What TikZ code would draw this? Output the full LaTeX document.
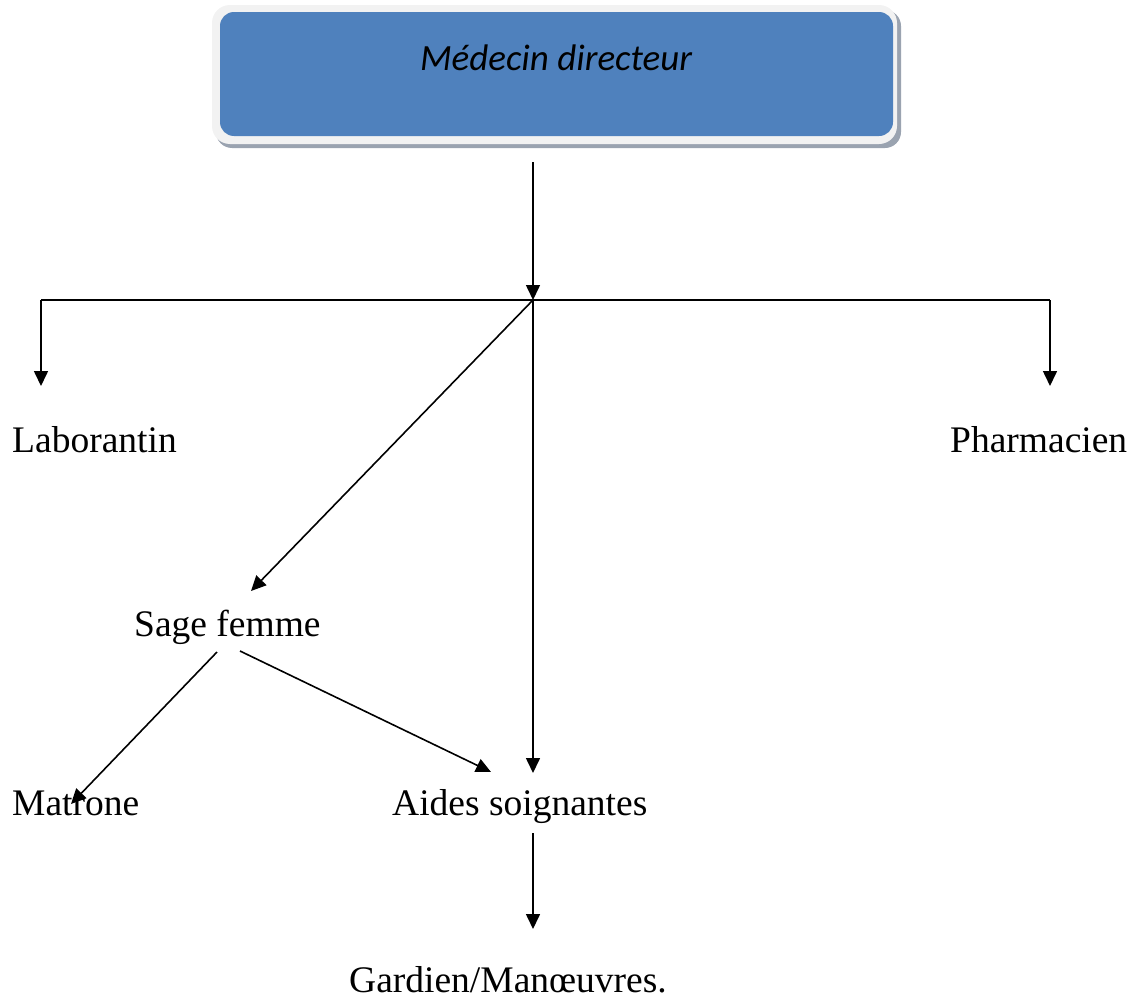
\documentclass[tikz,border=0pt]{standalone}
\usepackage{fontspec}
\setmainfont{Liberation Serif}
\newfontfamily\calib{Carlito}
\usetikzlibrary{arrows.meta}
\definecolor{boxblue}{HTML}{4F81BD}
\definecolor{framegray}{HTML}{F2F2F2}
\definecolor{shadowgray}{HTML}{9AA3B0}
\begin{document}
\begin{tikzpicture}[x=1pt,y=-1pt,
  arr/.style={line width=1.6pt,-{Triangle[length=15pt,width=14pt]}},
  ln/.style={line width=1.6pt},
  lbl/.style={inner sep=0pt,anchor=base west,font=\fontsize{37.5}{45}\selectfont}]
\useasboundingbox (0,0) rectangle (1135,1001);
% box
\fill[shadowgray,rounded corners=16pt] (216,10) rectangle (901,148);
\fill[framegray,rounded corners=18pt] (212,5) rectangle (897,144);
\node[fill=boxblue,rounded corners=14pt,minimum width=673pt,minimum height=124pt,inner sep=0pt] (md) at (556.5,74) {};
\node[inner sep=0pt,anchor=base,font=\calib\itshape\fontsize{37}{44}\selectfont] (mdt) at (556,70) {Médecin directeur};
% labels
\node[lbl] (lab) at (12,452) {Laborantin};
\node[lbl] (pha) at (950,452) {Pharmacien};
\node[lbl] (sag) at (134,636) {Sage femme};
\node[lbl] (mat) at (12,815) {Matrone};
\node[lbl] (aid) at (392,815) {Aides soignantes};
\node[lbl] (gar) at (349,992) {Gardien/Manœuvres.};
% coordinates
\coordinate (top) at (533,162);
\coordinate (j) at (533,300);
\coordinate (hL) at (41,300);
\coordinate (hR) at (1050,300);
\coordinate (labtip) at (41,386);
\coordinate (phatip) at (1050,386);
\coordinate (sagtip) at (251,591);
\coordinate (aidtip) at (533,773);
\coordinate (sagL) at (217,652);
\coordinate (sagR) at (240,651);
\coordinate (mattip) at (71,804);
\coordinate (aidtip2) at (491,772);
\coordinate (aidbot) at (533,833);
\coordinate (gartip) at (533,929);
% connectors
\draw[arr] (top) -- (j);
\draw[ln] (hL) -- (hR);
\draw[arr] (hL) -- (labtip);
\draw[arr] (hR) -- (phatip);
\draw[arr] (j) -- (sagtip);
\draw[arr] (j) -- (aidtip);
\draw[arr] (sagL) -- (mattip);
\draw[arr] (sagR) -- (aidtip2);
\draw[arr] (aidbot) -- (gartip);
\end{tikzpicture}
\end{document}
